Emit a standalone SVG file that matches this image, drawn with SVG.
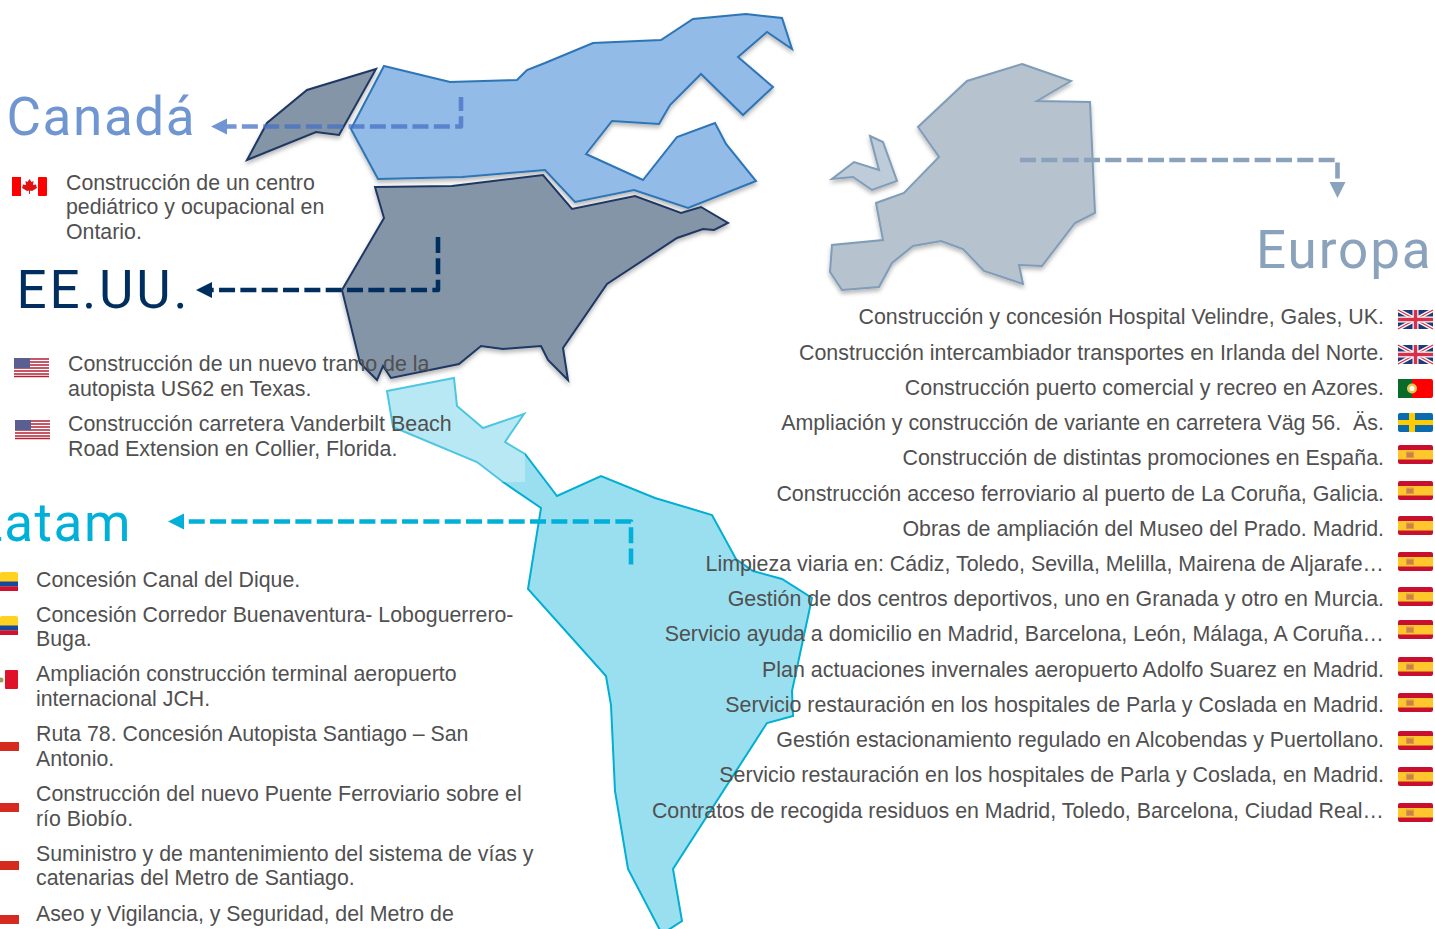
<svg xmlns="http://www.w3.org/2000/svg" width="1435" height="929" viewBox="0 0 1435 929">
<style>
text{font-family:"Liberation Sans",Arial,sans-serif}
.b{font-size:21.4px;fill:#505050;white-space:pre}
#canada .b,#latam .b{font-size:21.32px}
.r{text-anchor:end}
.h{font-size:53px;font-family:"Roboto","Liberation Sans",sans-serif;letter-spacing:1.6px}
.sh{filter:url(#s)}
.c{fill:none;stroke-width:4.6;stroke-dasharray:16 5.33;stroke-linejoin:round}
</style>
<defs>
<filter id="s" x="-10%" y="-10%" width="120%" height="125%"><feDropShadow dx="0" dy="3" stdDeviation="2.2" flood-color="#000" flood-opacity=".28"/></filter>
<marker id="a1" markerUnits="userSpaceOnUse" markerWidth="18" markerHeight="18" refX="0" refY="9" orient="auto"><path d="M0 1L16 9L0 17Z" fill="#7096D1"/></marker>
<marker id="a2" markerUnits="userSpaceOnUse" markerWidth="18" markerHeight="18" refX="0" refY="9" orient="auto"><path d="M0 1L16 9L0 17Z" fill="#002F5F"/></marker>
<marker id="a3" markerUnits="userSpaceOnUse" markerWidth="18" markerHeight="18" refX="0" refY="9" orient="auto"><path d="M0 1L16 9L0 17Z" fill="#00B0D8"/></marker>
<marker id="a4" markerUnits="userSpaceOnUse" markerWidth="18" markerHeight="18" refX="0" refY="9" orient="auto"><path d="M0 1L16 9L0 17Z" fill="#8AA2BC"/></marker>
<g id="uk"><rect width="35" height="19" fill="#1F3A78"/><path d="M0 0L35 19M35 0L0 19" stroke="#fff" stroke-width="4"/><path d="M0 0L35 19M35 0L0 19" stroke="#D8304A" stroke-width="1.3"/><path d="M17.500 0V19M0 9.500H35" stroke="#fff" stroke-width="6"/><path d="M17.500 0V19M0 9.500H35" stroke="#D8304A" stroke-width="3.500"/></g>
<g id="es"><rect width="35" height="19" rx="2" fill="#C8102E"/><rect y="5" width="35" height="9.500" fill="#FFC72C"/><rect x="8" y="6.500" width="8" height="6.500" fill="#D59A4A"/><path d="M9 9H15M9 11H15" stroke="#C8553A" stroke-width=".8"/></g>
<g id="us"><rect width="35" height="19" fill="#fff"/><path d="M0 1H35M0 4H35M0 7H35M0 10H35M0 13H35M0 16H35M0 18.500H35" stroke="#B22234" stroke-width="1.400"/><rect width="16" height="10" fill="#5A5F92"/></g>
<g id="co"><rect width="18" height="19" rx="2" fill="#FFD21F"/><rect y="9.500" width="18" height="5" fill="#17479E"/><rect y="14.500" width="18" height="4.500" fill="#D21034"/></g>
</defs>

<g id="latam-map">
<path d="M387 391L454 378L457 406L483 428L524 414L505 442L525 454L557 496L601 476L655 498L712 515L736 559L753 571L782 579L812 598L792 691L793 716L767 723L673 869L682 921L662 934L628 869L615 791L611 705L606 676L528 589L541 508L503 482L477 462L393 427Z" fill="#9ADFEF" stroke="#00AFD2" stroke-width="2"/>
<rect x="384" y="376" width="141" height="106" fill="#fff" fill-opacity=".3"/>
</g>
<g id="canada-map">
<path class="sh" d="M376 69L307 90L267 123L247 160L316 132L339 135Z" fill="#8595A8" stroke="#1F3864" stroke-width="2"/>
<path class="sh" d="M384 66L450 82L517 80L527 70L545 63L593 43L661 40L693 19L746 14L782 18L792 49L767 32L738 57L773 87L743 115L701 74L670 105L659 124L612 121L586 154L643 180L677 137L715 123L726 144L756 181L688 208L634 190L575 202L545 170L462 177L378 179L351 129Z" fill="#92BBE8" stroke="#2E75B6" stroke-width="2"/>
</g>
<g id="usa-map">
<path class="sh" d="M375 187L452 186L543 175L572 209L635 196L681 213L701 207L728 223L714 230L703 229L677 238L607 284L563 348L568 380L548 360L541 346L503 349L481 346L459 364L391 378L383 366L377 380L360 363L342 290L384 218Z" fill="#8595A8" stroke="#1F3864" stroke-width="2"/>
</g>
<g id="europa-map">
<path class="sh" d="M1022 64L1071 81L1037 101L1090 102L1095 213L1075 223L1042 266L1019 265L1023 284L984 271L963 249L941 241L913 246L892 263L879 287L842 290L830 272L832 245L883 240L876 203L904 193L939 157L918 127L967 81Z" fill="#B6C2CE" stroke="#7F9DB9" stroke-width="2"/>
<path class="sh" d="M870 136L883 142L897 181L872 190L853 177L832 179L854 162L879 170Z" fill="#BECBD8" stroke="#7F9DB9" stroke-width="2"/>
</g>

<g id="connectors">
<path class="c" d="M461 97V126.500H227" stroke="#4472C4" stroke-opacity=".75" stroke-dashoffset="2" marker-end="url(#a1)"/>
<path class="c" d="M438 237V290H212" stroke="#002F5F" marker-end="url(#a2)"/>
<path class="c" d="M631 564.500V521.500H184" stroke="#00B0D8" marker-end="url(#a3)"/>
<path class="c" d="M1020 160H1337.500V182" stroke="#8AA2BC" marker-end="url(#a4)"/>
</g>

<g id="canada">
<text class="h" x="6.500" y="135" fill="#7096D1">Canadá</text>
<g><rect x="12" y="177" width="35" height="19" rx="2" fill="#fff"/><rect x="12" y="177" width="9" height="19" fill="#F00"/><rect x="38" y="177" width="9" height="19" rx="1" fill="#F00"/><path d="M29.500 179L31.500 182L33.500 181L33 185L36 184.500L36.500 186.500L37 188L32 191L30 190.500V194H29V190.500L27 191L22 188L22.500 186.500L23 184.500L26 185L25.500 181L27.500 182Z" fill="#E01010"/></g>
<text class="b" x="66" y="190">Construcción de un centro</text>
<text class="b" x="66" y="214">pediátrico y ocupacional en</text>
<text class="b" x="66" y="239">Ontario.</text>
</g>
<g id="eeuu">
<text class="h" x="16.500" y="308" fill="#002F5F" style="letter-spacing:2.8px">EE.UU.</text>
<use href="#us" x="14" y="358"/>
<text class="b" x="68" y="371">Construcción de un nuevo tramo de la</text>
<text class="b" x="68" y="396">autopista US62 en Texas.</text>
<use href="#us" x="15" y="420"/>
<text class="b" x="68" y="431">Construcción carretera Vanderbilt Beach</text>
<text class="b" x="68" y="456">Road Extension en Collier, Florida.</text>
</g>
<g id="latam">
<text class="h" x="-26" y="541" fill="#00B0D8">Latam</text>
<use href="#co" x="0" y="572"/>
<text class="b" x="36" y="587">Concesión Canal del Dique.</text>
<use href="#co" x="0" y="616"/>
<text class="b" x="36" y="622">Concesión Corredor Buenaventura- Loboguerrero-</text>
<text class="b" x="36" y="646">Buga.</text>
<rect x="5" y="670" width="13" height="19" rx="1" fill="#E0112B"/><circle cx="1" cy="680" r="2.500" fill="#9B9B5A"/>
<text class="b" x="36" y="681">Ampliación construcción terminal aeropuerto</text>
<text class="b" x="36" y="706">internacional JCH.</text>
<rect x="0" y="742" width="19" height="9" fill="#D52B1E"/>
<text class="b" x="36" y="741">Ruta 78. Concesión Autopista Santiago – San</text>
<text class="b" x="36" y="766">Antonio.</text>
<rect x="0" y="803" width="19" height="9" fill="#D52B1E"/>
<text class="b" x="36" y="801">Construcción del nuevo Puente Ferroviario sobre el</text>
<text class="b" x="36" y="826">río Biobío.</text>
<rect x="0" y="861" width="19" height="9" fill="#D52B1E"/>
<text class="b" x="36" y="861">Suministro y de mantenimiento del sistema de vías y</text>
<text class="b" x="36" y="885">catenarias del Metro de Santiago.</text>
<rect x="0" y="915" width="19" height="9" fill="#D52B1E"/>
<text class="b" x="36" y="921">Aseo y Vigilancia, y Seguridad, del Metro de</text>
</g>
<g id="europa">
<text class="h" x="1256" y="268" fill="#8AA2BC" style="letter-spacing:1.9px">Europa</text>
<text class="b r" x="1384" y="324">Construcción y concesión Hospital Velindre, Gales, UK.</text>
<text class="b r" x="1384" y="360">Construcción intercambiador transportes en Irlanda del Norte.</text>
<text class="b r" x="1384" y="395">Construcción puerto comercial y recreo en Azores.</text>
<text class="b r" x="1384" y="430">Ampliación y construcción de variante en carretera Väg 56.  Äs.</text>
<text class="b r" x="1384" y="465">Construcción de distintas promociones en España.</text>
<text class="b r" x="1384" y="501">Construcción acceso ferroviario al puerto de La Coruña, Galicia.</text>
<text class="b r" x="1384" y="536">Obras de ampliación del Museo del Prado. Madrid.</text>
<text class="b r" x="1384" y="571">Limpieza viaria en: Cádiz, Toledo, Sevilla, Melilla, Mairena de Aljarafe…</text>
<text class="b r" x="1384" y="606">Gestión de dos centros deportivos, uno en Granada y otro en Murcia.</text>
<text class="b r" x="1384" y="641">Servicio ayuda a domicilio en Madrid, Barcelona, León, Málaga, A Coruña…</text>
<text class="b r" x="1384" y="677">Plan actuaciones invernales aeropuerto Adolfo Suarez en Madrid.</text>
<text class="b r" x="1384" y="712">Servicio restauración en los hospitales de Parla y Coslada en Madrid.</text>
<text class="b r" x="1384" y="747">Gestión estacionamiento regulado en Alcobendas y Puertollano.</text>
<text class="b r" x="1384" y="782">Servicio restauración en los hospitales de Parla y Coslada, en Madrid.</text>
<text class="b r" x="1384" y="818">Contratos de recogida residuos en Madrid, Toledo, Barcelona, Ciudad Real…</text>
<use href="#uk" x="1398" y="310"/>
<use href="#uk" x="1398" y="345"/>
<g><rect x="1398" y="379" width="35" height="19" rx="2" fill="#F00"/><rect x="1398" y="379" width="14" height="19" fill="#0A6A2A"/><circle cx="1412" cy="388.500" r="5" fill="#E8C64A"/><circle cx="1412" cy="388.500" r="2.500" fill="#fff"/></g>
<g><rect x="1398" y="413" width="35" height="19" rx="2" fill="#0A6CAF"/><rect x="1409" y="413" width="6" height="19" fill="#FECC00"/><rect x="1398" y="420" width="35" height="5" fill="#FECC00"/></g>
<use href="#es" x="1398" y="445"/>
<use href="#es" x="1398" y="481"/>
<use href="#es" x="1398" y="516"/>
<use href="#es" x="1398" y="552"/>
<use href="#es" x="1398" y="587"/>
<use href="#es" x="1398" y="620"/>
<use href="#es" x="1398" y="657"/>
<use href="#es" x="1398" y="693"/>
<use href="#es" x="1398" y="731"/>
<use href="#es" x="1398" y="767"/>
<use href="#es" x="1398" y="803"/>
</g>
</svg>
